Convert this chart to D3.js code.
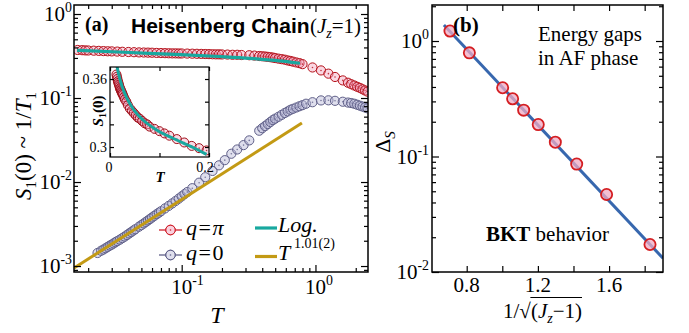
<!DOCTYPE html>
<html><head><meta charset="utf-8">
<script src="https://cdn.jsdelivr.net/npm/d3@7"></script>
<style>body{margin:0;background:#fff}svg{display:block}</style>
</head><body>
<script>
// ---------------- DATA ----------------
// Panel (a): S1(0) ~ 1/T1 vs T  (pairs [T, value])
const qPi = [[0.0167,0.373],[0.018,0.371],[0.019,0.369],[0.020,0.368],[0.022,0.366],[0.024,0.364],[0.026,0.362],[0.028,0.360],[0.030,0.359],[0.033,0.357],[0.036,0.355],[0.040,0.353],[0.044,0.351],[0.048,0.349],[0.052,0.348],[0.056,0.347],[0.060,0.346],[0.065,0.344],[0.070,0.343],[0.075,0.342],[0.080,0.341],[0.085,0.340],[0.090,0.340],[0.095,0.339],[0.100,0.339],[0.110,0.338],[0.120,0.337],[0.130,0.336],[0.140,0.335],[0.150,0.334],[0.160,0.333],[0.170,0.332],[0.180,0.331],[0.190,0.331],[0.200,0.330],[0.220,0.329],[0.240,0.327],[0.260,0.327],[0.280,0.325],[0.320,0.323],[0.350,0.320],[0.38,0.316],[0.40,0.314],[0.42,0.312],[0.44,0.309],[0.46,0.306],[0.48,0.303],[0.50,0.299],[0.53,0.294],[0.56,0.290],[0.59,0.286],[0.62,0.280],[0.65,0.276],[0.68,0.271],[0.72,0.265],[0.76,0.260],[0.80,0.253],[0.95,0.231],[1.10,0.213],[1.25,0.195],[1.40,0.178],[1.60,0.162],[1.75,0.152],[1.85,0.146],[1.95,0.141],[2.05,0.136],[2.15,0.132],[2.25,0.127],[2.35,0.123],[2.45,0.119]];
const q0 = [[0.0235,0.00143],[0.025,0.00152],[0.026,0.00157],[0.027,0.00163],[0.028,0.00169],[0.029,0.00175],[0.030,0.00180],[0.031,0.00186],[0.032,0.00192],[0.033,0.00198],[0.0345,0.00206],[0.036,0.00215],[0.0375,0.00224],[0.039,0.00234],[0.0405,0.00244],[0.042,0.00254],[0.0435,0.00264],[0.045,0.00274],[0.048,0.00294],[0.050,0.00307],[0.052,0.00321],[0.054,0.00335],[0.056,0.00349],[0.058,0.00363],[0.060,0.00378],[0.0625,0.00396],[0.065,0.00414],[0.0675,0.00431],[0.070,0.00449],[0.075,0.00485],[0.080,0.00520],[0.085,0.00556],[0.090,0.00594],[0.095,0.00634],[0.100,0.00675],[0.105,0.00717],[0.110,0.00759],[0.120,0.00844],[0.135,0.00982],[0.150,0.0114],[0.170,0.01355],[0.190,0.0158],[0.210,0.0182],[0.235,0.0217],[0.260,0.0244],[0.290,0.0275],[0.320,0.0313],[0.38,0.0408],[0.40,0.0437],[0.42,0.0463],[0.44,0.0490],[0.46,0.0518],[0.48,0.0546],[0.50,0.0568],[0.53,0.0599],[0.56,0.0631],[0.59,0.0663],[0.62,0.0692],[0.65,0.0724],[0.68,0.0744],[0.72,0.0771],[0.76,0.0798],[0.80,0.0822],[0.85,0.0855],[0.95,0.0891],[1.10,0.0936],[1.25,0.0939],[1.40,0.0926],[1.60,0.0903],[1.75,0.0883],[1.85,0.0871],[1.95,0.0855],[2.05,0.0832],[2.15,0.0810],[2.25,0.0791],[2.35,0.0773],[2.45,0.0754]];
const logFit = [[0.0165,0.370],[0.0411,0.348],[0.0979,0.329],[0.193,0.312],[0.324,0.297],[0.498,0.280],[0.766,0.259]];
const powFit = [[0.01567,0.000947],[0.792,0.0504]];
const aXMajor = [0.1, 1], aXLabels = ["-1", "0"];
const aYMajor = [0.001, 0.01, 0.1, 1], aYLabels = ["-3", "-2", "-1", "0"];

// Inset: S1(0) vs T (linear)
const insetQPi = [[0.013,0.364],[0.014,0.362],[0.015,0.360],[0.016,0.358],[0.017,0.3565],[0.018,0.355],[0.019,0.3535],[0.020,0.352],[0.021,0.351],[0.022,0.350],[0.023,0.349],[0.024,0.348],[0.025,0.347],[0.026,0.346],[0.028,0.344],[0.030,0.342],[0.033,0.340],[0.036,0.337],[0.040,0.334],[0.044,0.332],[0.048,0.330],[0.052,0.328],[0.056,0.326],[0.060,0.325],[0.065,0.323],[0.070,0.321],[0.075,0.320],[0.080,0.318],[0.090,0.316],[0.100,0.314],[0.110,0.312],[0.120,0.310],[0.135,0.307],[0.150,0.304],[0.165,0.301],[0.180,0.299],[0.195,0.297]];
const insetLog = [[0.0121,0.3761],[0.0168,0.3655],[0.0236,0.3545],[0.0337,0.3435],[0.0471,0.3333],[0.0673,0.3236],[0.0943,0.3150],[0.128,0.3075],[0.168,0.2996],[0.195,0.2935]];
const insetYLabels = [0.3, 0.36], insetXLabels = [0, 0.2];

// Panel (b): energy gaps vs 1/sqrt(Jz-1)
const gapX = [0.706, 0.815, 1.002, 1.058, 1.120, 1.202, 1.298, 1.418, 1.586, 1.830];
const gapY = [1.22, 0.79, 0.394, 0.316, 0.252, 0.189, 0.133, 0.086, 0.0469, 0.0173];
const bktFit = [[0.672,1.375],[1.903,0.01315]];
const bXLabels = [0.8, 1.2, 1.6];
const bYMajor = [0.01, 0.1, 1], bYLabels = ["-2", "-1", "0"];

// ---------------- DRAW ----------------
const SERIF = '"Liberation Serif","Times New Roman",serif';
const SANS = '"Liberation Sans",Arial,sans-serif';
const svg = d3.select("body").append("svg").attr("width",689).attr("height",333)
  .attr("font-family",SERIF);
svg.append("rect").attr("width",689).attr("height",333).attr("fill","#fff");
const defs = svg.append("defs");
function clip(id,x0,y0,x1,y1){defs.append("clipPath").attr("id",id).append("rect").attr("x",x0).attr("y",y0).attr("width",x1-x0).attr("height",y1-y0);}

const A = {l:74,r:368,t:5,b:272};
const B = {l:432,r:663,t:5,b:272};
const I = {l:110,r:209,t:67,b:157};
clip("ca",A.l,A.t,A.r,A.b); clip("cb",B.l,B.t,B.r,B.b); clip("ci",I.l,I.t,I.r,I.b);

const ax = d3.scaleLog().domain([0.01567,2.47]).range([A.l,A.r]);
const ay = d3.scaleLog().domain([0.000849,1.28]).range([A.b,A.t]);
const ix = d3.scaleLinear().domain([0,0.2]).range([I.l,I.r]);
const iy = d3.scaleLinear().domain([0.2912,0.3706]).range([I.b,I.t]);
const bx = d3.scaleLinear().domain([0.605,1.903]).range([B.l,B.r]);
const by = d3.scaleLog().domain([0.01,2.05]).range([B.b,B.t]);

const RED = {stroke:"#b5121b", fill:"rgba(242,150,180,0.38)"};
const BLUE = {stroke:"#5f5f88", fill:"rgba(185,185,215,0.45)"};
const CYAN = "#18a89f", GOLD = "#c39a14", LINEBLUE = "#3767ae";

function markers(g, data, xs, ys, st, r){
  const gg = g.append("g");
  data.forEach(d=>{
    gg.append("circle").attr("cx",xs(d[0])).attr("cy",ys(d[1])).attr("r",r)
      .attr("fill",st.fill).attr("stroke",st.stroke).attr("stroke-width",1);
    gg.append("circle").attr("cx",xs(d[0])).attr("cy",ys(d[1])).attr("r",0.8).attr("fill",st.stroke).attr("opacity",0.8);
  });
}
function ticks(g, scale, orient, pos, vals, len){
  const axis = orient==="left"?d3.axisLeft(scale):orient==="right"?d3.axisRight(scale):orient==="top"?d3.axisTop(scale):d3.axisBottom(scale);
  axis.tickValues(vals).tickSize(-len).tickFormat("");
  const t = (orient==="left"||orient==="right")?`translate(${pos},0)`:`translate(0,${pos})`;
  const gg = g.append("g").attr("transform",t).call(axis);
  gg.select(".domain").remove();
  gg.selectAll("line").attr("stroke","#000").attr("stroke-width",1.2);
}
function minorLog(lo,hi){const o=[];for(let e=-4;e<=1;e++){for(let m=2;m<=9;m++){const v=m*Math.pow(10,e);if(v>lo&&v<hi)o.push(v);}}return o;}
function powLabel(x,y,exp,anchor,fs){
  const t = svg.append("text").attr("x",x).attr("y",y).attr("font-size",fs).attr("text-anchor",anchor);
  t.append("tspan").text("10");
  t.append("tspan").attr("dy",-fs*0.42).attr("font-size",fs*0.66).text(exp);
  return t;
}

// ---- Panel (a) ----
const ga = svg.append("g").attr("clip-path","url(#ca)");
markers(ga, qPi, ax, ay, RED, 4.6);
markers(ga, q0, ax, ay, BLUE, 4.6);
ga.append("path").datum(logFit).attr("fill","none").attr("stroke",CYAN).attr("stroke-width",3.2)
  .attr("d", d3.line().x(d=>ax(d[0])).y(d=>ay(d[1])).curve(d3.curveMonotoneX));
ga.append("path").datum(powFit).attr("fill","none").attr("stroke",GOLD).attr("stroke-width",3)
  .attr("d", d3.line().x(d=>ax(d[0])).y(d=>ay(d[1])));

// inset
svg.append("rect").attr("x",I.l).attr("y",I.t).attr("width",I.r-I.l).attr("height",I.b-I.t).attr("fill","#fff");
const gi = svg.append("g").attr("clip-path","url(#ci)");
markers(gi, insetQPi, ix, iy, {stroke:"#a00e18", fill:"rgba(242,150,180,0.35)"}, 4.5);
gi.append("path").datum(insetLog).attr("fill","none").attr("stroke",CYAN).attr("stroke-width",3)
  .attr("d", d3.line().x(d=>ix(d[0])).y(d=>iy(d[1])).curve(d3.curveMonotoneX));
svg.append("rect").attr("x",I.l).attr("y",I.t).attr("width",I.r-I.l).attr("height",I.b-I.t).attr("fill","none").attr("stroke","#000").attr("stroke-width",1.2);
const gti = svg.append("g");
ticks(gti, iy, "left", I.l, [0.30,0.32,0.34,0.36], 4);
ticks(gti, iy, "right", I.r, [0.30,0.32,0.34,0.36], 4);
ticks(gti, ix, "bottom", I.b, [0,0.1,0.2], 4);
ticks(gti, ix, "top", I.t, [0,0.1,0.2], 4);
insetYLabels.forEach(v=>svg.append("text").attr("x",I.l-3).attr("y",iy(v)+5).attr("text-anchor","end").attr("font-size",14).text(v));
insetXLabels.forEach(v=>svg.append("text").attr("x",ix(v)-(v?4:1)).attr("y",172).attr("text-anchor","middle").attr("font-size",14).text(v));
const isl = svg.append("text").attr("transform","translate(103,111) rotate(-90)").attr("text-anchor","middle").attr("font-size",15).attr("font-weight","bold");
isl.append("tspan").attr("font-style","italic").text("S");
isl.append("tspan").attr("font-size",10).attr("dy",3).text("1");
isl.append("tspan").attr("dy",-3).text("(0)");
svg.append("text").attr("x",160).attr("y",182).attr("text-anchor","middle").attr("font-size",15).attr("font-weight","bold").attr("font-style","italic").text("T");

// frame & ticks (a)
svg.append("rect").attr("x",A.l).attr("y",A.t).attr("width",A.r-A.l).attr("height",A.b-A.t).attr("fill","none").attr("stroke","#000").attr("stroke-width",1.5);
const gta = svg.append("g");
const aXMinor = minorLog(0.01567,2.47), aYMinor = minorLog(0.000849,1.28);
ticks(gta, ax, "bottom", A.b, aXMajor, 7); ticks(gta, ax, "bottom", A.b, aXMinor, 4);
ticks(gta, ax, "top", A.t, aXMajor, 7); ticks(gta, ax, "top", A.t, aXMinor, 4);
ticks(gta, ay, "left", A.l, aYMajor, 7); ticks(gta, ay, "left", A.l, aYMinor, 4);
ticks(gta, ay, "right", A.r, aYMajor, 7); ticks(gta, ay, "right", A.r, aYMinor, 4);
aXMajor.forEach((v,i)=>powLabel(ax(v)-10.5, 294, aXLabels[i], "start", 21));
aYMajor.forEach((v,i)=>powLabel(72, ay(v)+7, aYLabels[i], "end", 21));

// axis titles (a)
const yl = svg.append("text").attr("transform","translate(31,146) rotate(-90)").attr("text-anchor","middle").attr("font-size",23);
yl.append("tspan").attr("font-style","italic").text("S");
yl.append("tspan").attr("font-size",15).attr("dy",5).text("1");
yl.append("tspan").attr("dy",-5).text("(0) ~ 1/");
yl.append("tspan").attr("font-style","italic").text("T");
yl.append("tspan").attr("font-size",15).attr("dy",5).text("1");
svg.append("text").attr("x",217).attr("y",323).attr("text-anchor","middle").attr("font-size",24).attr("font-style","italic").text("T");

// title (a)
svg.append("text").attr("x",85).attr("y",31).attr("font-size",20).attr("font-weight","bold").text("(a)");
svg.append("text").attr("x",131).attr("y",33).attr("font-size",21).attr("font-weight","bold").attr("font-family",SANS).text("Heisenberg Chain");
const jt = svg.append("text").attr("x",310).attr("y",33).attr("font-size",21);
jt.append("tspan").text("(");
jt.append("tspan").attr("font-style","italic").text("J");
jt.append("tspan").attr("font-style","italic").attr("font-size",14).attr("dy",5).text("z");
jt.append("tspan").attr("dy",-5).text("=1)");

// legend (a)
function legMarker(x0,x1,y,st){
  svg.append("line").attr("x1",x0).attr("x2",x1).attr("y1",y).attr("y2",y).attr("stroke",st.stroke).attr("stroke-width",1.3);
  svg.append("circle").attr("cx",(x0+x1)/2).attr("cy",y).attr("r",4.8).attr("fill","#fff").attr("stroke",st.stroke).attr("stroke-width",1);
  svg.append("circle").attr("cx",(x0+x1)/2).attr("cy",y).attr("r",4.8).attr("fill",st.fill).attr("stroke",st.stroke).attr("stroke-width",1);
  svg.append("circle").attr("cx",(x0+x1)/2).attr("cy",y).attr("r",0.8).attr("fill",st.stroke);
}
legMarker(159,182,230,{stroke:"#d0202a",fill:"rgba(242,150,180,0.45)"});
legMarker(159,182,255,BLUE);
function qLabel(y, last){
  const t = svg.append("text").attr("x",186).attr("y",y).attr("font-size",22);
  t.append("tspan").attr("font-style","italic").text("q");
  t.append("tspan").attr("dx",1.5).text("=");
  t.append("tspan").attr("dx",1.5).attr("font-style", last==="π"?"italic":"normal").text(last);
}
qLabel(235,"π"); qLabel(260,"0");
svg.append("line").attr("x1",255).attr("x2",277).attr("y1",228).attr("y2",228).attr("stroke",CYAN).attr("stroke-width",3.2);
svg.append("line").attr("x1",255).attr("x2",277).attr("y1",256.5).attr("y2",256.5).attr("stroke",GOLD).attr("stroke-width",3.2);
svg.append("text").attr("x",278).attr("y",232).attr("font-size",22).attr("font-style","italic").text("Log.");
svg.append("text").attr("x",278).attr("y",260).attr("font-size",22).attr("font-style","italic").text("T");
svg.append("text").attr("x",294).attr("y",248).attr("font-size",14).text("1.01(2)");

// ---- Panel (b) ----
const gb = svg.append("g").attr("clip-path","url(#cb)");
gb.append("path").datum(bktFit).attr("fill","none").attr("stroke",LINEBLUE).attr("stroke-width",3)
  .attr("d", d3.line().x(d=>bx(d[0])).y(d=>by(d[1])));
gapX.forEach((xv,i)=>{
  gb.append("circle").attr("cx",bx(xv)).attr("cy",by(gapY[i])).attr("r",5.6)
    .attr("fill","rgba(240,170,195,0.75)").attr("stroke","#d41e22").attr("stroke-width",1.8);
});
svg.append("rect").attr("x",B.l).attr("y",B.t).attr("width",B.r-B.l).attr("height",B.b-B.t).attr("fill","none").attr("stroke","#000").attr("stroke-width",1.5);
const gtb = svg.append("g");
const bXT = [0.8,1.0,1.2,1.4,1.6,1.8];
const bYMinor = minorLog(0.01,2.05);
ticks(gtb, bx, "bottom", B.b, bXT, 6); ticks(gtb, bx, "top", B.t, bXT, 6);
ticks(gtb, by, "left", B.l, bYMajor, 7); ticks(gtb, by, "left", B.l, bYMinor, 4);
ticks(gtb, by, "right", B.r, bYMajor, 7); ticks(gtb, by, "right", B.r, bYMinor, 4);
bXLabels.forEach(v=>svg.append("text").attr("x",bx(v)).attr("y",292).attr("text-anchor","middle").attr("font-size",21).text(v.toFixed(1)));
bYMajor.forEach((v,i)=>powLabel(429, by(v)+7, bYLabels[i], "end", 21));

// axis titles (b)
const dl = svg.append("text").attr("transform","translate(390,142) rotate(-90)").attr("text-anchor","middle").attr("font-size",22);
dl.append("tspan").text("Δ");
dl.append("tspan").attr("font-style","italic").attr("font-size",15).attr("dy",5).text("S");
const xl1 = svg.append("text").attr("x",503).attr("y",318).attr("font-size",21).text("1/√");
const w1 = xl1.node().getComputedTextLength();
const xl2 = svg.append("text").attr("x",503+w1).attr("y",318).attr("font-size",21);
xl2.append("tspan").text("(");
xl2.append("tspan").attr("font-style","italic").text("J");
xl2.append("tspan").attr("font-style","italic").attr("font-size",14).attr("dy",5).text("z");
xl2.append("tspan").attr("dy",-5).text("−1)");
const w2 = xl2.node().getComputedTextLength();
svg.append("line").attr("x1",503+w1-0.5).attr("x2",503+w1+w2).attr("y1",297.5).attr("y2",297.5).attr("stroke","#000").attr("stroke-width",1);

// texts (b)
svg.append("text").attr("x",453).attr("y",32).attr("font-size",21).attr("font-weight","bold").text("(b)");
svg.append("text").attr("x",538).attr("y",41).attr("font-size",21).text("Energy gaps");
svg.append("text").attr("x",538).attr("y",65).attr("font-size",21).text("in AF phase");
const bk = svg.append("text").attr("x",486).attr("y",241).attr("font-size",21);
bk.append("tspan").attr("font-weight","bold").text("BKT");
bk.append("tspan").text(" behavior");
</script>
</body></html>
